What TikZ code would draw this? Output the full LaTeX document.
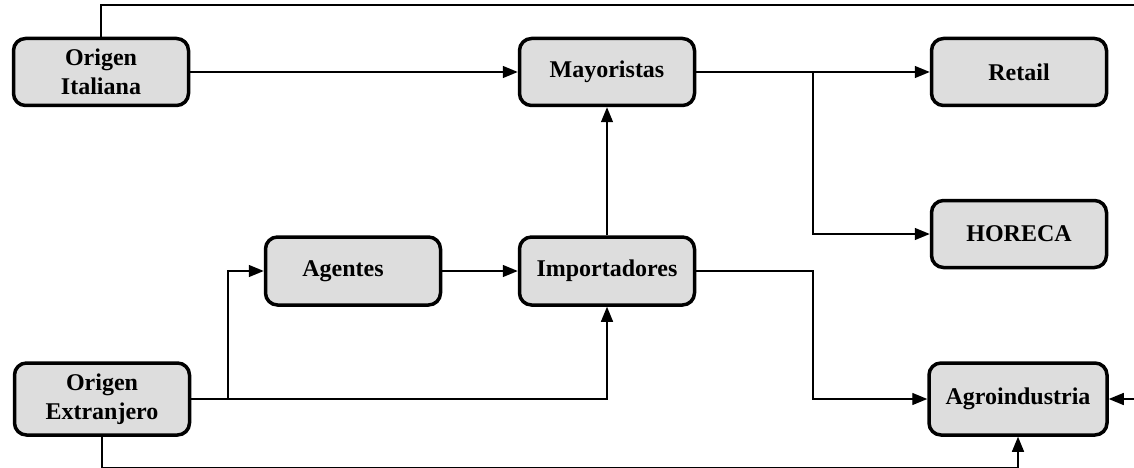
\documentclass[tikz,border=0pt]{standalone}
\usepackage{fontspec}
\setmainfont{Liberation Serif}
\usetikzlibrary{arrows.meta}
\definecolor{boxfill}{HTML}{DDDDDD}
\begin{document}
\begin{tikzpicture}[x=1pt,y=-1pt,
  blk/.style={draw=black, fill=boxfill, line width=3.5pt, rounded corners=12pt,
    minimum width=175pt, minimum height=67pt, inner sep=0pt, align=center,
    font=\fontsize{24}{29}\selectfont\bfseries},
  conn/.style={line width=1.4pt},
  arr/.style={conn, -{Triangle[length=15pt,width=12pt]}}]
\useasboundingbox (0,0) rectangle (1134,468);
\node[blk] (oi) at (101,72) {Origen\\Italiana};
\node[blk] (may) at (607,72) {Mayoristas};
\node[blk] (ret) at (1019,72) {Retail};
\node[blk] (hor) at (1019,234) {HORECA};
\node[blk, minimum height=68pt] (age) at (353,271) {\hspace*{-20pt}Agentes};
\node[blk, minimum height=68pt] (imp) at (607,271) {Importadores};
\node[blk, minimum height=72pt] (oe) at (102,399) {Origen\\Extranjero};
\node[blk, minimum height=72pt, minimum width=178pt] (agro) at (1018,399) {Agroindustria};
\coordinate (br1) at (813,72);
\coordinate (br2) at (813,271);
\coordinate (br3) at (228,399);
\coordinate (topR) at (1134,5);
\coordinate (rightIn) at (1134,399);
\draw[arr] (oi) -- (may);
\draw[arr] (may) -- (ret);
\draw[arr] (br1) |- (hor.west);
\draw[arr] (imp) -- (may);
\draw[arr] (age) -- (imp);
\draw[arr] (oe.east) -| (imp.south);
\draw[arr] (br3) |- (age.west);
\draw[arr] (imp.east) -- (br2) |- (agro.west);
\draw[arr] (oe.south) -- ++(0,31) -| (agro.south);
\draw[conn] (oi.north) |- (topR);
\draw[arr] (rightIn) -- (agro.east);
\end{tikzpicture}
\end{document}
